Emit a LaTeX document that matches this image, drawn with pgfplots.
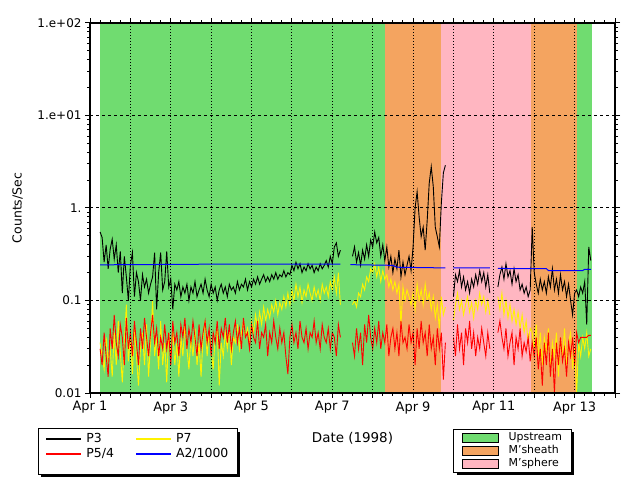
\documentclass[border=0pt]{standalone}
\usepackage{fontspec}
\setmainfont{DejaVu Sans}
\usepackage{pgfplots}
\usepackage{pgfplotstable}
\pgfplotsset{compat=1.18}
\pgfdeclarelayer{background}
\pgfsetlayers{background,main}
\definecolor{upgreen}{RGB}{112,220,112}
\definecolor{msheath}{RGB}{244,164,96}
\definecolor{msphere}{RGB}{255,182,193}

\pgfplotstableread{
t p3 p54 p7
0.25 0.55 0.030 0.035
0.30 0.48 0.020 0.025
0.35 0.26 0.045 0.018
0.40 0.40 0.025 0.040
0.45 0.22 0.015 0.022
0.50 0.36 0.050 0.030
0.55 0.46 0.030 0.015
0.60 0.28 0.070 0.045
0.65 0.40 0.035 0.020
0.70 0.20 0.025 0.060
0.75 0.34 0.055 0.028
0.80 0.12 0.040 0.013
0.85 0.30 0.020 0.035
0.90 0.18 0.065 0.090
0.95 0.10 0.030 0.022
1.00 0.24 0.045 0.040
1.05 0.33 0.025 0.016
1.10 0.11 0.060 0.050
1.15 0.20 0.035 0.025
1.20 0.16 0.020 0.012
1.25 0.10 0.050 0.030
1.30 0.19 0.030 0.045
1.35 0.14 0.065 0.020
1.40 0.17 0.040 0.055
1.45 0.12 0.025 0.015
1.50 0.15 0.045 0.035
1.55 0.18 0.070 0.100
1.60 0.33 0.035 0.025
1.65 0.08 0.050 0.040
1.70 0.20 0.025 0.018
1.75 0.33 0.040 0.060
1.80 0.13 0.030 0.020
1.85 0.16 0.055 0.035
1.90 0.34 0.030 0.013
1.95 0.14 0.045 0.045
2.00 0.17 0.020 0.025
2.05 0.08 0.060 0.050
2.10 0.15 0.035 0.020
2.15 0.13 0.045 0.035
2.20 0.16 0.025 0.015
2.25 0.11 0.055 0.040
2.30 0.14 0.040 0.025
2.35 0.12 0.065 0.055
2.40 0.15 0.030 0.030
2.45 0.10 0.050 0.018
2.50 0.14 0.035 0.040
2.55 0.12 0.060 0.025
2.60 0.16 0.040 0.050
2.65 0.11 0.025 0.020
2.70 0.13 0.055 0.035
2.75 0.15 0.030 0.015
2.80 0.12 0.045 0.040
2.85 0.17 0.060 0.060
2.90 0.13 0.035 0.025
2.95 0.11 0.050 0.045
3.00 0.15 0.025 0.030
3.05 0.12 0.045 0.018
3.10 0.14 0.035 0.040
3.15 0.10 0.060 0.050
3.20 0.13 0.030 0.012
3.25 0.15 0.050 0.035
3.30 0.12 0.040 0.025
3.35 0.14 0.065 0.045
3.40 0.11 0.035 0.030
3.45 0.15 0.055 0.050
3.50 0.13 0.030 0.020
3.55 0.14 0.045 0.040
3.60 0.12 0.060 0.035
3.65 0.16 0.035 0.055
3.70 0.13 0.050 0.030
3.75 0.15 0.030 0.045
3.80 0.14 0.065 0.060
3.85 0.17 0.040 0.040
3.90 0.13 0.045 0.050
3.95 0.16 0.030 0.035
4.00 0.14 0.055 0.060
4.05 0.17 0.040 0.045
4.10 0.15 0.035 0.070
4.15 0.18 0.060 0.050
4.20 0.15 0.030 0.075
4.25 0.17 0.045 0.055
4.30 0.19 0.040 0.085
4.35 0.16 0.055 0.060
4.40 0.18 0.025 0.080
4.45 0.16 0.045 0.065
4.50 0.19 0.035 0.090
4.55 0.17 0.060 0.075
4.60 0.20 0.040 0.100
4.65 0.17 0.030 0.070
4.70 0.19 0.050 0.095
4.75 0.18 0.035 0.080
4.80 0.21 0.045 0.110
4.85 0.18 0.025 0.085
4.90 0.20 0.016 0.120
4.95 0.19 0.040 0.090
5.00 0.24 0.055 0.130
5.05 0.21 0.035 0.100
5.10 0.26 0.045 0.150
5.15 0.22 0.030 0.110
5.20 0.25 0.060 0.140
5.25 0.20 0.040 0.095
5.30 0.23 0.035 0.130
5.35 0.21 0.050 0.110
5.40 0.25 0.030 0.150
5.45 0.22 0.045 0.120
5.50 0.24 0.040 0.100
5.55 0.20 0.060 0.140
5.60 0.23 0.035 0.110
5.65 0.21 0.045 0.130
5.70 0.25 0.030 0.100
5.75 0.22 0.055 0.150
5.80 0.24 0.040 0.120
5.85 0.27 0.035 0.140
5.90 0.23 0.050 0.110
5.95 0.30 0.030 0.160
6.00 0.25 0.045 0.130
6.05 0.38 0.040 0.180
6.10 0.42 0.025 0.120
6.15 0.30 0.055 0.200
6.20 0.35 0.040 0.090
6.25 nan nan nan
6.45 nan nan nan
6.50 0.30 0.035 0.090
6.55 0.38 0.025 0.100
6.60 0.26 0.050 0.085
6.65 0.33 0.030 0.120
6.70 0.24 0.045 0.110
6.75 0.35 0.020 0.150
6.80 0.28 0.055 0.130
6.85 0.40 0.035 0.180
6.90 0.30 0.070 0.160
6.95 0.45 0.040 0.220
7.00 0.38 0.030 0.200
7.05 0.55 0.050 0.250
7.10 0.42 0.035 0.180
7.15 0.48 0.060 0.230
7.20 0.30 0.030 0.160
7.25 0.40 0.045 0.210
7.30 0.27 0.035 0.170
7.35 0.38 0.055 0.190
7.40 0.23 0.025 0.140
7.45 0.30 0.040 0.170
7.50 0.20 0.050 0.130
7.55 0.28 0.030 0.160
7.60 0.22 0.045 0.120
7.65 0.35 0.025 0.150
7.70 0.18 0.060 0.055
7.75 0.26 0.035 0.140
7.80 0.19 0.040 0.100
7.85 0.24 0.030 0.130
7.90 0.30 0.055 0.110
7.95 0.21 0.035 0.090
8.00 0.38 0.045 0.120
8.05 1.00 0.020 0.080
8.10 1.50 0.050 0.150
8.15 0.80 0.030 0.100
8.20 0.49 0.060 0.130
8.25 0.62 0.035 0.090
8.30 0.35 0.045 0.150
8.35 0.74 0.025 0.100
8.40 1.86 0.055 0.120
8.45 2.80 0.030 0.080
8.50 1.70 0.040 0.110
8.55 0.62 0.020 0.065
8.60 0.49 0.050 0.090
8.65 0.38 0.030 0.050
8.70 1.13 0.045 0.110
8.75 2.40 0.014 0.070
8.80 2.90 0.035 0.085
8.85 nan nan nan
8.95 nan nan nan
9.00 0.11 0.040 0.060
9.05 0.19 0.025 0.090
9.10 0.16 0.055 0.120
9.15 0.21 0.030 0.080
9.20 0.14 0.045 0.100
9.25 0.18 0.020 0.070
9.30 0.13 0.050 0.090
9.35 0.16 0.035 0.110
9.40 0.12 0.060 0.075
9.45 0.17 0.030 0.095
9.50 0.14 0.045 0.065
9.55 0.19 0.025 0.100
9.60 0.15 0.040 0.080
9.65 0.21 0.030 0.120
9.70 0.16 0.050 0.090
9.75 0.20 0.035 0.110
9.80 0.14 0.025 0.075
9.85 0.19 0.045 0.100
9.90 0.12 0.030 0.070
9.95 nan nan nan
10.05 nan nan nan
10.10 0.14 0.045 0.110
10.15 0.19 0.060 0.080
10.20 0.23 0.040 0.120
10.25 0.17 0.030 0.070
10.30 0.25 0.050 0.100
10.35 0.18 0.025 0.065
10.40 0.21 0.035 0.090
10.45 0.15 0.045 0.060
10.50 0.22 0.020 0.080
10.55 0.16 0.040 0.055
10.60 0.19 0.030 0.075
10.65 0.13 0.050 0.050
10.70 0.15 0.025 0.070
10.75 0.12 0.035 0.045
10.80 0.14 0.028 0.060
10.85 0.11 0.040 0.035
10.90 0.13 0.022 0.050
10.95 0.62 0.035 0.045
11.00 0.20 0.025 0.030
11.05 0.15 0.040 0.055
11.10 0.12 0.018 0.025
11.15 0.17 0.030 0.045
11.20 0.13 0.012 0.020
11.25 0.16 0.035 0.040
11.30 0.12 0.020 0.028
11.35 0.18 0.045 0.050
11.40 0.14 0.015 0.018
11.45 0.22 0.030 0.035
11.50 0.13 0.010 0.025
11.55 0.17 0.035 0.045
11.60 0.12 0.020 0.015
11.65 0.19 0.040 0.040
11.70 0.13 0.022 0.025
11.75 0.16 0.030 0.050
11.80 0.11 0.015 0.020
11.85 0.15 0.035 0.035
11.90 0.10 0.025 0.045
11.95 0.07 0.040 0.018
12.00 0.12 0.020 0.030
12.05 0.13 0.045 0.010
12.10 0.11 0.035 0.035
12.15 0.14 0.040 0.025
12.20 0.12 0.040 0.040
12.25 0.16 0.040 0.030
12.30 0.055 0.040 0.045
12.35 0.38 0.042 0.025
12.40 0.27 0.042 0.030
}\datatable

\begin{document}
\begin{tikzpicture}
\path[use as bounding box] (0bp,0bp) rectangle (640bp,480bp);
\begin{axis}[
  at={(90bp,87bp)}, anchor=south west,
  scale only axis, width=525bp, height=370bp,
  xmin=0, xmax=13, ymode=log, ymin=0.01, ymax=100,
  axis on top,
  axis line style={line width=1.2bp},
  xtick={0,1,...,13},
  xticklabels={Apr 1,{},Apr 3,{},Apr 5,{},Apr 7,{},Apr 9,{},Apr 11,{},Apr 13,{}},
  minor xtick={0.25,0.5,...,13},
  ytick={0.01,0.1,1,10,100},
  yticklabels={0.01,0.1,1.,1.e+01,1.e+02},
  minor ytick={0.02,0.03,0.04,0.05,0.06,0.07,0.08,0.09,0.2,0.3,0.4,0.5,0.6,0.7,0.8,0.9,2,3,4,5,6,7,8,9,20,30,40,50,60,70,80,90},
  tick align=outside,
  major tick length=5bp, minor tick length=3bp,
  tick style={black, line width=1bp},
  xmajorgrids, ymajorgrids,
  major x grid style={black, line width=1bp, dash pattern=on 1bp off 2bp},
  major y grid style={black, line width=1bp, dash pattern=on 3bp off 3bp},
  x tick label style={font=\fontsize{13}{15}\selectfont},
  y tick label style={font=\fontsize{12}{14}\selectfont},
  xlabel={Date (1998)},
  xlabel style={at={(axis description cs:0.5,-0.1216)}, anchor=center, font=\fontsize{13.5}{16}\selectfont},
  ylabel={Counts/Sec},
  ylabel style={at={(axis description cs:-0.138,0.5)}, anchor=center, font=\fontsize{12.5}{15}\selectfont},
  unbounded coords=jump,
  legend columns=2,
  legend cell align=left,
  legend image code/.code={\draw[#1] (0bp,0bp) -- (35bp,0bp);},
  legend style={name=legA, at={(-0.099,-0.104)}, anchor=north west, draw=none, fill=none,
    font=\fontsize{12.5}{14}\selectfont,
    inner xsep=7.5bp, inner ysep=0bp,
    nodes={text height=9.5bp, text depth=3bp, inner sep=1.25bp},
    /tikz/every odd column/.append style={column sep=3bp},
    /tikz/every even column/.append style={column sep=20bp}},
]
% region backgrounds
\addplot[fill=upgreen, draw=none, forget plot] coordinates {(0.25,0.001) (0.25,1000) (7.31,1000) (7.31,0.001)} -- cycle;
\addplot[fill=msheath, draw=none, forget plot] coordinates {(7.31,0.001) (7.31,1000) (8.70,1000) (8.70,0.001)} -- cycle;
\addplot[fill=msphere, draw=none, forget plot] coordinates {(8.70,0.001) (8.70,1000) (10.93,1000) (10.93,0.001)} -- cycle;
\addplot[fill=msheath, draw=none, forget plot] coordinates {(10.93,0.001) (10.93,1000) (12.07,1000) (12.07,0.001)} -- cycle;
\addplot[fill=upgreen, draw=none, forget plot] coordinates {(12.07,0.001) (12.07,1000) (12.44,1000) (12.44,0.001)} -- cycle;
% data
\addplot[draw=yellow, line width=0.9bp, forget plot] table[x=t, y=p7] {\datatable};
\addplot[draw=red, line width=0.9bp, forget plot] table[x=t, y=p54] {\datatable};
\addplot[draw=black, line width=0.9bp, forget plot] table[x=t, y=p3] {\datatable};
\addplot[draw=blue, line width=1bp, forget plot] coordinates {
 (0.25,0.243) (3.0,0.247) (6.20,0.248) (6.3,nan)
 (6.45,0.244) (7.50,0.240) (7.60,0.229) (8.80,0.225) (8.9,nan)
 (9.00,0.225) (9.90,0.225) (10.0,nan)
 (10.10,0.222) (11.30,0.221) (11.35,0.211) (12.20,0.211) (12.25,0.217) (12.40,0.217)};
% legend
\addlegendimage{draw=black, line width=1.5bp}\addlegendentry{P3}
\addlegendimage{draw=yellow, line width=1.5bp}\addlegendentry{P7}
\addlegendimage{draw=red, line width=1.5bp}\addlegendentry{P5/4}
\addlegendimage{draw=blue, line width=1.5bp}\addlegendentry{A2/1000}
% title
\node[anchor=base, font=\fontsize{16}{18}\selectfont] at (rel axis cs:0.2257,1) [yshift=6bp] {University of Maryland};
\node[anchor=base, font=\fontsize{16}{18}\selectfont] at (rel axis cs:0.5467,1) [yshift=6bp] {IMP\textendash 8};
\node[anchor=base, font=\fontsize{16}{18}\selectfont] at (rel axis cs:0.819,1) [yshift=6bp] {Apr 1 to Apr 13};
\end{axis}
\begin{axis}[
  at={(90bp,87bp)}, anchor=south west,
  scale only axis, width=525bp, height=370bp,
  hide axis, xmin=0, xmax=1, ymin=0, ymax=1,
  legend cell align=left,
  legend image code/.code={\fill[#1] (0bp,-4.5bp) rectangle (36bp,4.5bp);},
  legend style={name=legB, at={(0.6933,-0.0973)}, anchor=north west, draw=none, fill=none,
    font=\fontsize{11}{13}\selectfont,
    inner xsep=8bp, inner ysep=2bp,
    nodes={text height=8.5bp, text depth=2.5bp, inner sep=1bp},
    /tikz/every odd column/.append style={column sep=9bp}},
]
\addlegendimage{fill=upgreen}\addlegendentry{Upstream}
\addlegendimage{fill=msheath}\addlegendentry{M'sheath}
\addlegendimage{fill=msphere}\addlegendentry{M'sphere}
\end{axis}
\coordinate (A1) at ([yshift=-12.5bp]legA.south west);
\coordinate (A2) at ([yshift=2.5bp]legA.north east);
\begin{pgfonlayer}{background}
\fill[black] ([xshift=3bp,yshift=-3bp]A1) rectangle ([xshift=3bp,yshift=-3bp]A2);
\fill[white] (A1) rectangle (A2);
\fill[black] ([xshift=3bp,yshift=-3bp]legB.south west) rectangle ([xshift=3bp,yshift=-3bp]legB.north east);
\fill[white] (legB.south west) rectangle (legB.north east);
\end{pgfonlayer}
\draw[line width=1bp] (A1) rectangle (A2);
\draw[line width=1bp] (legB.south west) rectangle (legB.north east);
\end{tikzpicture}
\end{document}
